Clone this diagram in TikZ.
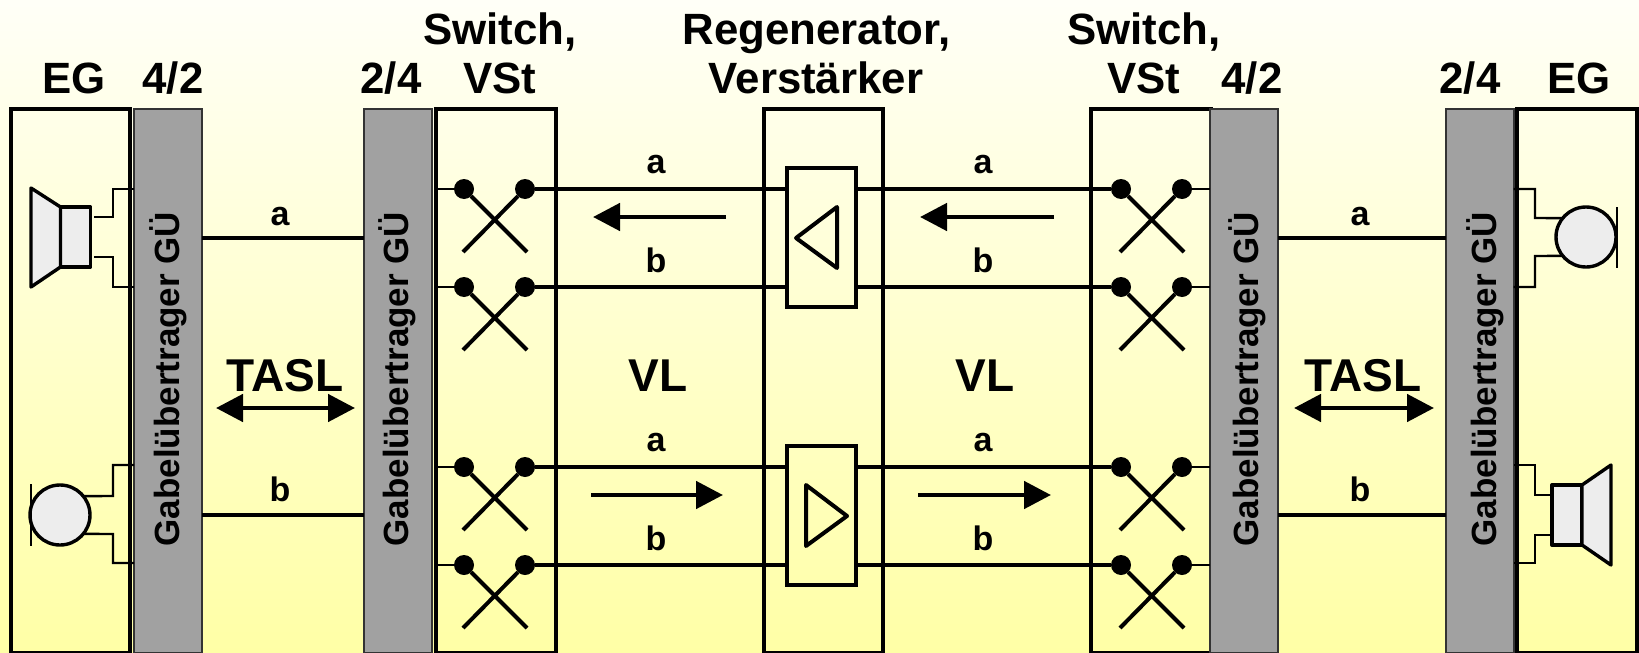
\documentclass[tikz,border=0pt]{standalone}
\usepackage{fontspec}
\setmainfont{Liberation Sans}
\usetikzlibrary{arrows.meta}
\tikzset{
  blockbox/.style={draw, line width=2pt, anchor=north, minimum height=272pt, inner sep=0pt, outer sep=0pt},
  guebox/.style={draw=black!80, line width=1pt, fill=black!37, anchor=north, minimum width=34pt, minimum height=272pt, inner sep=0pt, outer sep=0pt},
  guetext/.style={rotate=90, inner sep=0pt, font=\bfseries\fontsize{17.5}{20}\selectfont},
  headtext/.style={anchor=base, inner sep=0pt, font=\bfseries\fontsize{21.9}{24}\selectfont},
  bigtext/.style={anchor=base, inner sep=0pt, font=\bfseries\fontsize{23}{26}\selectfont},
  signame/.style={anchor=base, inner sep=0pt, font=\bfseries\fontsize{17}{20}\selectfont},
  ampbox/.style={draw, line width=2pt, minimum width=34.5pt, minimum height=69.5pt, inner sep=0pt, outer sep=0pt},
  contact/.style={circle, fill, minimum size=10pt, inner sep=0pt, outer sep=0pt},
  sig/.style={line width=2pt},
  thinw/.style={line width=1.2pt},
  flow/.style={line width=2.4pt},
  part/.style={draw, line width=1.7pt, fill=black!7, line join=round, inner sep=0pt, outer sep=0pt}
}
\begin{document}
\begin{tikzpicture}[x=0.5pt, y=-0.5pt, >={Triangle[length=13.5pt,width=13.5pt]}]
  \useasboundingbox (0,0) rectangle (1639,653);
  \shade[top color=yellow!3!white, bottom color=yellow!35!white] (0,0) rectangle (1639,653);

  \node[blockbox, minimum width=59.75pt] (egL) at (70.25,109) {};
  \node[blockbox, minimum width=60pt] (swL) at (496,109) {};
  \node[blockbox, minimum width=59.5pt] (regen) at (823.5,109) {};
  \node[blockbox, minimum width=60pt] (swR) at (1151,109) {};
  \node[blockbox, minimum width=60pt] (egR) at (1577,109) {};

  \foreach \n/\x/\tx in {gueA/168/168, gueB/398/397, gueC/1244/1247, gueD/1479.5/1485} {
    \node[guebox] (\n) at (\x,109) {};
    \node[guetext] (\n text) at (\tx,379) {Gabelübertrager GÜ};
  }

  \node[headtext] (headEGL) at (74,93) {EG};
  \node[headtext] (headGL) at (173,93) {4/2};
  \node[headtext] (headGB) at (391,93) {2/4};
  \node[headtext] (headSL) at (500,44) {Switch,};
  \node[headtext] (headVL) at (500,93) {VSt};
  \node[headtext] (headRA) at (816.5,44) {Regenerator,};
  \node[headtext] (headRB) at (816,93) {Verstärker};
  \node[headtext] (headSR) at (1144,44) {Switch,};
  \node[headtext] (headVR) at (1144,93) {VSt};
  \node[headtext] (headGC) at (1252,93) {4/2};
  \node[headtext] (headGD) at (1470,93) {2/4};
  \node[headtext] (headEGR) at (1579,93) {EG};

  \node[ampbox] (ampT) at (821.5,237.5) {};
  \node[ampbox] (ampB) at (821.5,515.5) {};
  \draw[line width=2pt, line join=round] (796,238) -- (837,207) -- (837,268) -- cycle;
  \draw[line width=2pt, line join=round] (847,516) -- (806,485) -- (806,546) -- cycle;

  \foreach \y/\a in {189/ampT, 287/ampT, 467/ampB, 565/ampB} {
    \node[contact] (sL\y a) at (464,\y) {};
    \node[contact] (sL\y b) at (525,\y) {};
    \node[contact] (sR\y a) at (1121,\y) {};
    \node[contact] (sR\y b) at (1182,\y) {};
    \draw[thinw] (swL.west |- sL\y a) -- (sL\y a);
    \draw[sig] (sL\y b) -- (\a.west |- sL\y b);
    \draw[sig] (\a.east |- sR\y a) -- (sR\y a);
    \draw[thinw] (sR\y b) -- (gueC.west |- sR\y b);
  }
  \foreach \s/\l/\r in {sL/463/527, sR/1120/1184} {
    \foreach \y in {189, 287, 467, 565} {
      \coordinate (\s\y c) at (\r,\y+63);
      \coordinate (\s\y d) at (\l,\y+63);
      \draw[sig] (\s\y a) -- (\s\y c);
      \draw[sig] (\s\y b) -- (\s\y d);
    }
  }

  \coordinate (lineA) at (0,238);
  \coordinate (lineB) at (0,515);
  \draw[sig] (gueA.east |- lineA) -- (gueB.west |- lineA);
  \draw[sig] (gueA.east |- lineB) -- (gueB.west |- lineB);
  \draw[sig] (gueC.east |- lineA) -- (gueD.west |- lineA);
  \draw[sig] (gueC.east |- lineB) -- (gueD.west |- lineB);

  \foreach \n/\xs/\xe/\y in {fA/726/593/217, fB/1054/920/217, fC/591/723/495, fD/918/1051/495} {
    \coordinate (\n s) at (\xs,\y);
    \coordinate (\n e) at (\xe,\y);
    \draw[flow, ->] (\n s) -- (\n e);
  }
  \foreach \n/\xs/\xe in {tA/216/355, tB/1294/1434} {
    \coordinate (\n s) at (\xs,408);
    \coordinate (\n e) at (\xe,408);
    \draw[flow, <->] (\n s) -- (\n e);
  }

  \foreach \n/\x/\y/\t in {nA/280/225/a, nB/280/501/b, nC/1360/225/a, nD/1360/501/b,
      nE/656/173/a, nF/656/272/b, nG/656/451/a, nH/656/550/b,
      nI/983/173/a, nJ/983/272/b, nK/983/451/a, nL/983/550/b} {
    \node[signame] (\n) at (\x,\y) {\t};
  }
  \foreach \n/\x/\t in {tlA/285/TASL, tlB/1363/TASL, vlA/658/VL, vlB/985/VL} {
    \node[bigtext] (\n) at (\x,391) {\t};
  }

  \node[part, minimum width=15pt, minimum height=30pt] (spkL) at (75.5,237) {};
  \filldraw[part] (spkL.north west) -- (31,188) -- (31,287) -- (spkL.south west) -- cycle;
  \draw[thinw] (94,217) -- (113,217) -- (113,189) -- (gueA.west |- 113,189);
  \draw[thinw] (94,257) -- (113,257) -- (113,287) -- (gueA.west |- 113,287);

  \node[part, circle, minimum size=30pt] (micL) at (60,515) {};
  \draw[line width=1.4pt] (31,484) -- (31,546);
  \draw[thinw] (micL.39) -- (113,496) -- (113,465) -- (gueA.west |- 113,465);
  \draw[thinw] (micL.-39) -- (113,534) -- (113,563) -- (gueA.west |- 113,563);

  \node[part, circle, minimum size=30pt] (micR) at (1586,237) {};
  \draw[line width=1.4pt] (1617,207) -- (1617,268);
  \draw[thinw] (micR.141) -- (1535,218) -- (1535,189) -- (gueD.east |- 1535,189);
  \draw[thinw] (micR.-141) -- (1535,256) -- (1535,287) -- (gueD.east |- 1535,287);

  \node[part, minimum width=15pt, minimum height=30pt] (spkR) at (1567,515) {};
  \filldraw[part] (spkR.north east) -- (1611,465) -- (1611,565) -- (spkR.south east) -- cycle;
  \draw[thinw] (spkR.west |- 0,495) -- (1535,495) -- (1535,465) -- (gueD.east |- 1535,465);
  \draw[thinw] (spkR.west |- 0,535) -- (1535,535) -- (1535,563) -- (gueD.east |- 1535,563);
\end{tikzpicture}
\end{document}
